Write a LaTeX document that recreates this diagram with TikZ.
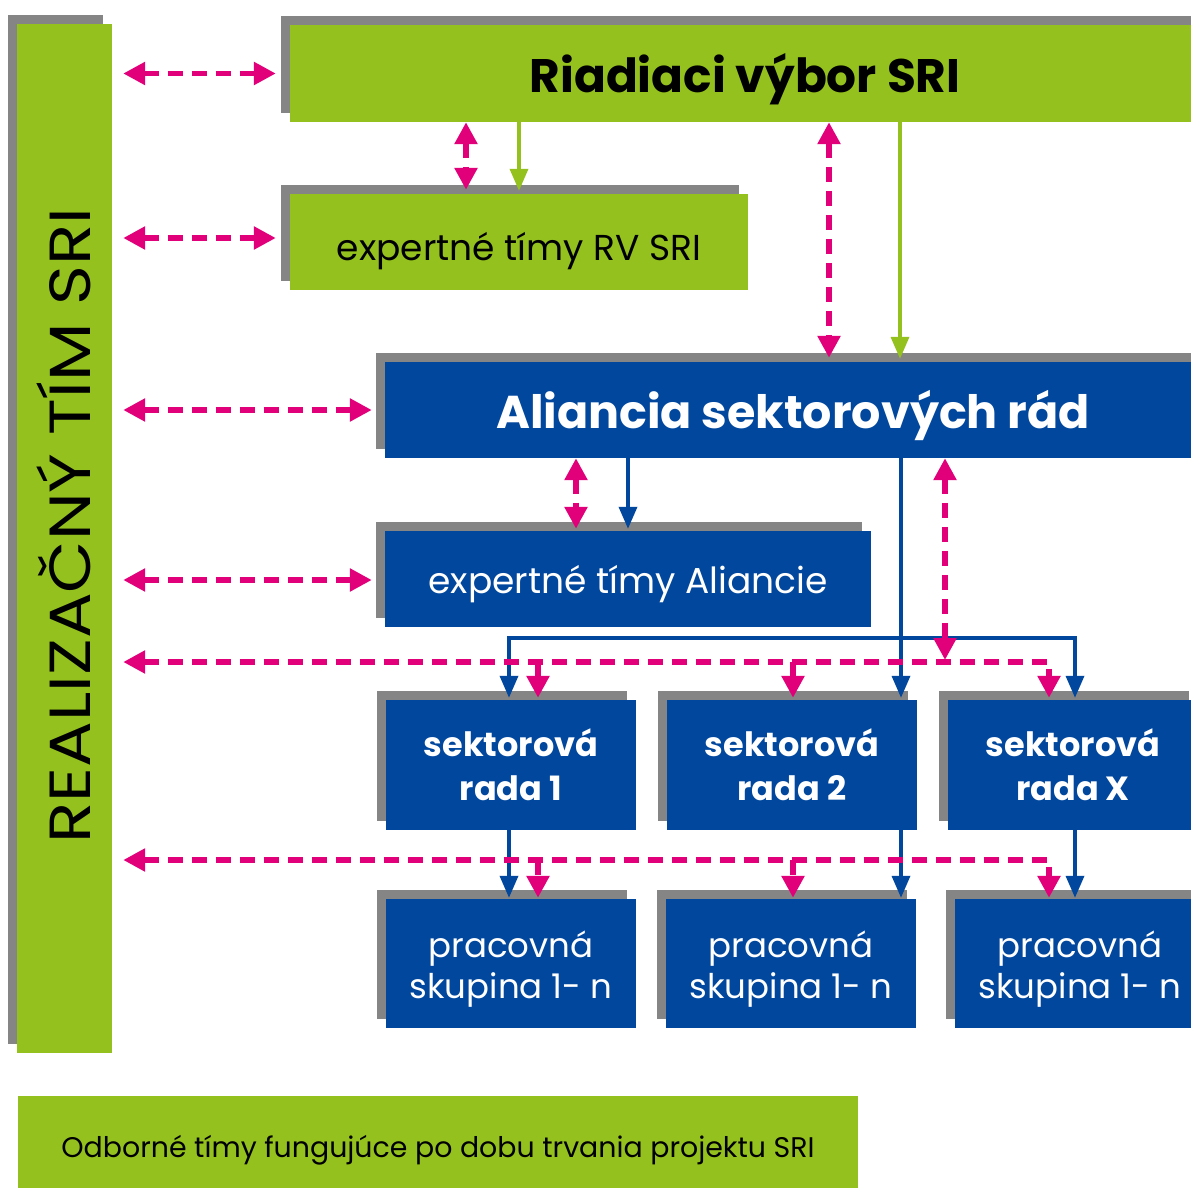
\documentclass[tikz,border=0pt]{standalone}
\usepackage{fontspec}
\setmainfont{Poppins}
\usetikzlibrary{arrows.meta,shadows,calc}
\definecolor{sgreen}{HTML}{95C11F}
\definecolor{sblue}{HTML}{00479D}
\definecolor{sgrey}{HTML}{858585}
\definecolor{smag}{HTML}{E2007A}
\newcommand\lowered[2]{\raisebox{#1}[\height][\depth]{#2}}
\begin{document}
\begin{tikzpicture}[x=1pt,y=-1pt,
  sbox/.style={rectangle, inner sep=0pt, align=center,
    general shadow={fill=sgrey, shadow xshift=-9pt, shadow yshift=9pt}},
  gbox/.style={sbox, fill=sgreen, text=black},
  bbox/.style={sbox, fill=sblue, text=white},
  marr/.style={draw=smag, line width=5.5pt, dash pattern=on 15pt off 9pt,
    >={Triangle[length=22pt,width=22pt]}},
  garr/.style={draw=sgreen, line width=3.5pt, ->, >={Triangle[length=22pt,width=18pt]}},
  barr/.style={draw=sblue, line width=3.5pt, ->, >={Triangle[length=22pt,width=18pt]}},
  midt/.style={font=\fontsize{36}{43}\selectfont},
  smb/.style={font=\fontsize{33.5}{44}\selectfont\bfseries},
  pgt/.style={font=\fontsize{34}{41}\selectfont},
]
\useasboundingbox (0,0) rectangle (1191,1188);
\clip (0,0) rectangle (1191,1188);
\fill[white] (0,0) rectangle (1191,1188);

% nodes
\node[gbox, minimum width=95pt, minimum height=1029pt] (real) at (64.5,538.5)
  {\rotatebox{90}{\raisebox{0pt}[51pt][0pt]{\hspace*{26pt}\scalebox{1.17}[1]{\fontsize{58}{60}\selectfont REALIZAČNÝ TÍM SRI}}}};
\node[gbox, font=\fontsize{47}{52}\selectfont\bfseries, text height=39pt, text depth=0pt,
  minimum width=910pt, minimum height=97pt] (rv) at (745,73.5) {Riadiaci výbor SRI};
\node[gbox, midt, text height=36pt, text depth=0pt,
  minimum width=458pt, minimum height=96pt] (exrv) at (519,242) {expertné tímy RV SRI};
\node[bbox, font=\fontsize{46}{52}\selectfont\bfseries, text height=36pt, text depth=0pt,
  minimum width=816pt, minimum height=96pt] (al) at (793,410) {Aliancia sektorových rád};
\node[bbox, midt, text height=28pt, text depth=0pt,
  minimum width=486pt, minimum height=96pt] (exal) at (628,579) {expertné tímy Aliancie};
\node[bbox, smb, minimum width=250pt, minimum height=130pt] (s1) at (511,765) {sektorová\\rada 1};
\node[bbox, smb, minimum width=250pt, minimum height=130pt] (s2) at (792,765) {sektorová\\rada 2};
\node[bbox, smb, minimum width=250pt, minimum height=130pt] (sX) at (1073,765) {sektorová\\rada X};
\node[bbox, pgt, minimum width=250pt, minimum height=129pt] (p1) at (511,963.5)
  {\lowered{-6pt}{\begin{tabular}{@{}c@{}}pracovná\\skupina 1- n\end{tabular}}};
\node[bbox, pgt, minimum width=250pt, minimum height=129pt] (p2) at (791,963.5)
  {\lowered{-6pt}{\begin{tabular}{@{}c@{}}pracovná\\skupina 1- n\end{tabular}}};
\node[bbox, pgt, minimum width=250pt, minimum height=129pt] (p3) at (1080,963.5)
  {\lowered{-6pt}{\begin{tabular}{@{}c@{}}pracovná\\skupina 1- n\end{tabular}}};
\node[fill=sgreen, inner sep=0pt, minimum width=840pt, minimum height=100pt,
  text height=22pt, text depth=0pt,
  font=\fontsize{28.4}{32}\selectfont] (leg) at (438,1146) {Odborné tímy fungujúce po dobu trvania projektu SRI};

% helper coordinates
\coordinate (xa) at (466,0);
\coordinate (xb) at (519,0);
\coordinate (xc) at (829,0);
\coordinate (xd) at (900,0);
\coordinate (xe) at (576,0);
\coordinate (xf) at (628,0);
\coordinate (xg) at (901,0);
\coordinate (xh) at (945,0);
\coordinate (xi) at (509,0);
\coordinate (xj) at (1075,0);
\coordinate (xk) at (538,0);
\coordinate (xl) at (793,0);
\coordinate (xm) at (1049,0);
\coordinate (hb) at (0,638);
\coordinate (h1) at (0,662);
\coordinate (h2) at (0,860);

% left magenta arrows
\draw[marr,<->] ($(real.east |- rv.west)+(11,0)$) -- ($(rv.west)+(-14,0)$);
\draw[marr,<->] ($(real.east |- exrv.west)+(11,-4)$) -- ($(exrv.west)+(-14,-4)$);
\draw[marr,<->] ($(real.east |- al.west)+(11,0)$) -- ($(al.west)+(-13,0)$);
\draw[marr,<->] ($(real.east |- exal.west)+(11,1)$) -- ($(exal.west)+(-13,1)$);

% top connectors
\draw[marr,<->] (xa |- rv.south) -- ($(xa |- exrv.north)+(0,-4)$);
\draw[garr] (xb |- rv.south) -- ($(xb |- exrv.north)+(0,-3)$);
\draw[marr,<->] (xc |- rv.south) -- ($(xc |- al.north)+(0,-4)$);
\draw[garr] (xd |- rv.south) -- ($(xd |- al.north)+(0,-3)$);

% Aliancia connectors
\draw[marr,<->] (xe |- al.south) -- ($(xe |- exal.north)+(0,-2)$);
\draw[barr] (xf |- al.south) -- ($(xf |- exal.north)+(0,-2)$);
\draw[barr] (xg |- al.south) -- ($(xg |- s2.north)+(0,-2)$);
\draw[barr] (xg |- hb) -| ($(xi |- s1.north)+(0,-2)$);
\draw[barr] (xg |- hb) -| ($(xj |- sX.north)+(0,-2)$);
\draw[marr,<->] (xh |- al.south) -- ($(xh |- h1)+(0,-2)$);

% magenta row 1
\draw[marr,<->] ($(real.east |- h1)+(11,0)$) -- (xm |- h1) -- ($(xm |- sX.north)+(0,-2)$);
\draw[marr,->] (xk |- h1) -- ($(xk |- s1.north)+(0,-2)$);
\draw[marr,->] (xl |- h1) -- ($(xl |- s2.north)+(0,-2)$);

% row 2
\draw[barr] (xi |- s1.south) -- ($(xi |- p1.north)+(0,-1)$);
\draw[barr] (xg |- s2.south) -- ($(xg |- p2.north)+(0,-1)$);
\draw[barr] (xj |- sX.south) -- ($(xj |- p3.north)+(0,-1)$);
\draw[marr,<->] ($(real.east |- h2)+(11,0)$) -- (xm |- h2) -- ($(xm |- p3.north)+(0,-1)$);
\draw[marr,->] (xk |- h2) -- ($(xk |- p1.north)+(0,-1)$);
\draw[marr,->] (xl |- h2) -- ($(xl |- p2.north)+(0,-1)$);
\end{tikzpicture}
\end{document}
